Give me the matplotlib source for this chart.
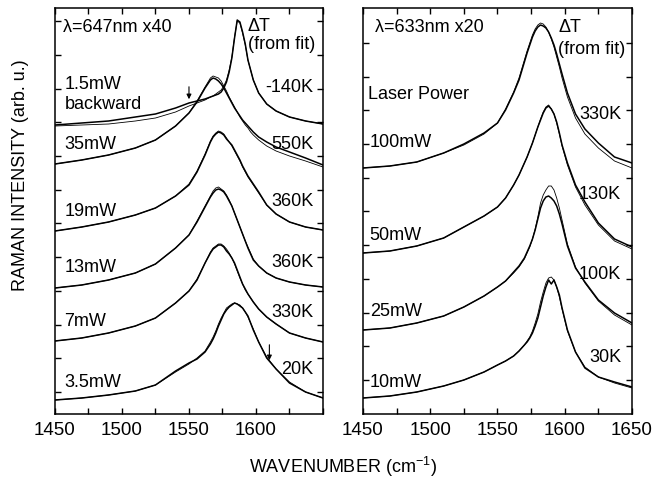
import matplotlib
matplotlib.use('Agg')
import matplotlib.pyplot as plt
import numpy as np

plt.rcParams['font.family'] = ['Liberation Sans', 'DejaVu Sans']

wavenumber = [1450, 1470, 1490, 1510, 1525, 1540, 1550, 1556, 1562, 1566, 1568, 1570,
              1572, 1574, 1576, 1578, 1580, 1582, 1584, 1586, 1588, 1590, 1592, 1594,
              1596, 1598, 1602, 1608, 1615, 1625, 1637, 1650]

# left panel: 647 nm, x40 (offset spectra, arb. u.)
left_power = ['1.5mW', '35mW', '19mW', '13mW', '7mW', '3.5mW']
left_dT = ['-140K', '550K', '360K', '360K', '330K', '20K']
left_data = [
    [289, 291, 293, 297, 300, 306, 311, 313, 315, 317, 318, 319, 320, 322, 326, 332,
     342, 356, 376, 394, 392, 382, 370, 354, 344, 334, 321, 310, 303, 297, 293, 290],
    [250, 254, 259, 266, 274, 288, 301, 312, 326, 334, 336, 335, 333, 330, 326, 321,
     316, 311, 306, 302, 298, 294, 291, 288, 285, 282, 277, 272, 267, 262, 256, 249],
    [183, 187, 192, 199, 206, 218, 229, 242, 259, 272, 277, 280, 282, 281, 279, 275,
     272, 269, 264, 259, 254, 248, 243, 238, 234, 230, 222, 209, 200, 192, 187, 184],
    [126, 129, 134, 141, 150, 166, 179, 192, 207, 217, 221, 224, 225, 224, 222, 218,
     213, 208, 201, 194, 187, 180, 173, 166, 160, 154, 148, 141, 136, 132, 129, 127],
    [73, 76, 81, 88, 96, 111, 123, 134, 151, 161, 165, 167, 169, 169, 167, 163,
     160, 156, 151, 144, 137, 130, 125, 120, 116, 112, 105, 97, 90, 81, 76, 72],
    [14, 16, 19, 23, 29, 43, 51, 55, 62, 70, 75, 81, 88, 94, 100, 104,
     107, 109, 111, 110, 108, 106, 102, 98, 91, 84, 72, 56, 45, 31, 22, 16],
]
left_fit = [
    [288, 289, 290, 293, 296, 302, 308, 311, 314, 317, 318, 320, 322, 324, 328, 334,
     344, 357, 377, 393, 391, 381, 369, 354, 344, 334, 321, 310, 303, 297, 293, 290],
    [250, 254, 259, 266, 274, 288, 301, 313, 327, 336, 338, 337, 336, 333, 328, 323,
     317, 312, 307, 302, 297, 293, 289, 286, 282, 279, 274, 268, 263, 258, 253, 247],
    [183, 187, 192, 199, 206, 218, 230, 243, 260, 273, 278, 281, 283, 282, 280, 276,
     272, 268, 263, 258, 253, 247, 242, 237, 233, 229, 221, 209, 200, 192, 187, 184],
    [126, 129, 134, 141, 150, 166, 179, 193, 208, 218, 223, 226, 227, 225, 223, 219,
     214, 208, 201, 194, 187, 180, 173, 167, 161, 155, 148, 141, 136, 132, 129, 127],
    [73, 76, 81, 88, 96, 111, 123, 135, 151, 162, 166, 168, 170, 170, 168, 165,
     161, 156, 150, 143, 136, 130, 124, 120, 116, 112, 105, 97, 90, 81, 76, 72],
    [14, 16, 19, 23, 29, 42, 50, 56, 63, 72, 77, 83, 90, 96, 101, 106,
     108, 110, 111, 110, 109, 106, 102, 97, 91, 85, 72, 57, 45, 32, 22, 16],
]

# right panel: 633 nm, x20
right_power = ['100mW', '50mW', '25mW', '10mW']
right_dT = ['330K', '130K', '100K', '30K']
right_data = [
    [246, 248, 252, 261, 270, 281, 291, 304, 321, 334, 343, 352, 361, 369, 377, 383,
     387, 389, 388, 386, 382, 376, 369, 360, 350, 340, 321, 300, 285, 271, 257, 251],
    [161, 163, 168, 176, 187, 198, 207, 216, 229, 239, 245, 251, 257, 264, 271, 279,
     287, 294, 301, 306, 308, 305, 300, 292, 281, 269, 251, 229, 212, 191, 175, 167],
    [84, 86, 91, 98, 107, 118, 127, 133, 142, 148, 152, 156, 162, 168, 175, 184,
     195, 206, 213, 217, 218, 216, 213, 208, 200, 190, 168, 146, 132, 114, 101, 91],
    [16, 18, 22, 28, 34, 42, 49, 53, 58, 63, 66, 69, 72, 76, 81, 88,
     96, 107, 118, 127, 134, 130, 134, 127, 119, 106, 84, 62, 46, 37, 32, 27],
]
right_fit = [
    [246, 248, 252, 261, 269, 280, 291, 305, 322, 336, 345, 354, 363, 371, 379, 385,
     389, 391, 390, 387, 382, 375, 367, 357, 347, 336, 317, 296, 280, 266, 253, 246],
    [161, 163, 168, 176, 187, 198, 207, 216, 229, 239, 245, 251, 257, 264, 271, 279,
     287, 295, 302, 307, 309, 305, 300, 291, 280, 268, 249, 227, 209, 189, 173, 165],
    [84, 86, 91, 98, 107, 118, 127, 133, 141, 147, 151, 155, 161, 167, 175, 185,
     197, 211, 219, 224, 228, 228, 224, 216, 206, 194, 170, 147, 131, 113, 99, 89],
    [16, 18, 22, 28, 34, 42, 49, 53, 58, 63, 66, 69, 73, 77, 83, 91,
     100, 112, 122, 131, 136, 137, 134, 127, 117, 105, 83, 62, 47, 37, 31, 26],
]

fig = plt.figure(figsize=(6.68, 4.79), dpi=100)
ax1 = fig.add_axes([0.0823, 0.1357, 0.4012, 0.8476])
ax2 = fig.add_axes([0.5434, 0.1357, 0.4027, 0.8476])

fs = 13
xt = np.arange(1450, 1651, 25)

for ax, data, fit in [(ax1, left_data, left_fit), (ax2, right_data, right_fit)]:
    for d, f in zip(data, fit):
        ax.plot(wavenumber, d, color='black', lw=1.1)
        ax.plot(wavenumber, f, color='black', lw=0.6)
    ax.set_xlim(1450, 1650)
    ax.set_ylim(0, 406)
    ax.set_xticks(xt)
    ax.tick_params(direction='in', top=True, right=True, length=4, width=1,
                   labelsize=13.5, pad=6, labelleft=False)
    for s in ax.spines.values():
        s.set_linewidth(1.1)

ax1.set_xticklabels([str(v) if v % 50 == 0 and v < 1650 else '' for v in xt])
ax2.set_xticklabels([str(v) if v % 50 == 0 else '' for v in xt])
ax1.set_yticks(np.arange(22, 400, 33.7))
ax2.set_yticks(np.arange(34, 380, 33.7))

# left panel labels
ax1.text(1456, 386, 'λ=647nm x40', fontsize=fs, va='center')
ax1.text(1594, 387, 'ΔT', fontsize=fs, va='center')
ax1.text(1594, 369, '(from fit)', fontsize=fs, va='center')
ax1.text(1457, 309, 'backward', fontsize=fs, va='center')
for lab, y in zip(left_power, [329, 269, 202, 146, 92, 31]):
    ax1.text(1457, y, lab, fontsize=fs, va='center')
for lab, y in zip(left_dT, [326, 269, 212, 151, 101, 44]):
    ax1.text(1643, y, lab, fontsize=fs, va='center', ha='right')
ax1.annotate('', xy=(1550, 312), xytext=(1550, 330),
             arrowprops=dict(arrowstyle='-|>', color='black', lw=0.8, mutation_scale=7))
ax1.annotate('', xy=(1610, 51), xytext=(1610, 72),
             arrowprops=dict(arrowstyle='-|>', color='black', lw=0.8, mutation_scale=7))

# right panel labels
ax2.text(1459, 386, 'λ=633nm x20', fontsize=fs, va='center')
ax2.text(1595, 386, 'ΔT', fontsize=fs, va='center')
ax2.text(1595, 364, '(from fit)', fontsize=fs, va='center')
ax2.text(1454, 319, 'Laser Power', fontsize=fs, va='center')
for lab, y in zip(right_power, [271, 178, 102, 31]):
    ax2.text(1455, y, lab, fontsize=fs, va='center')
for lab, y in zip(right_dT, [299, 219, 139, 56]):
    ax2.text(1642, y, lab, fontsize=fs, va='center', ha='right')

fig.text(0.030, 0.635, 'RAMAN INTENSITY (arb. u.)', rotation=90, fontsize=fs,
         ha='center', va='center')
fig.text(0.513, 0.025, 'WAVENUMBER (cm$^{\\mathregular{-1}}$)', fontsize=fs,
         ha='center', va='center')

fig.savefig('out.png', dpi=100)
